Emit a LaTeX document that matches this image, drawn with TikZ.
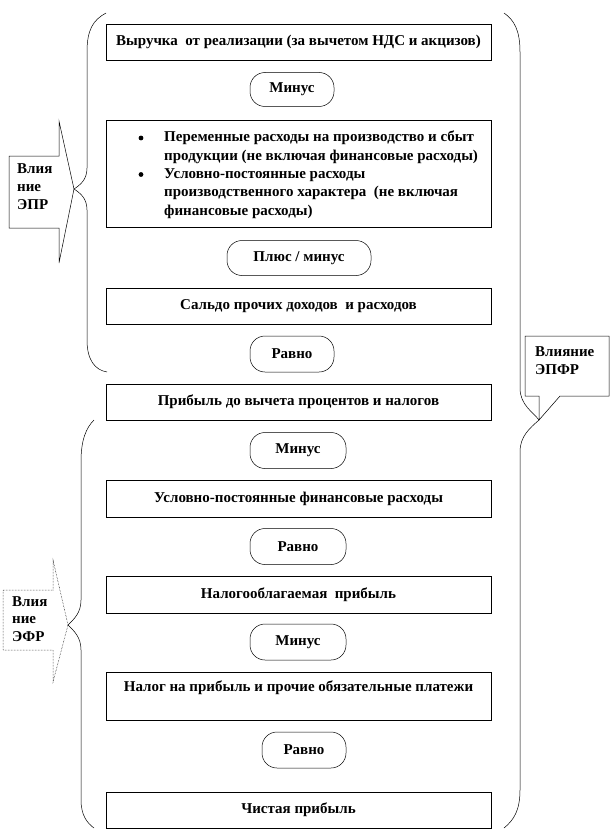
\documentclass[tikz,border=0pt]{standalone}
\usepackage{fontspec}
\setmainfont{Liberation Serif}
\begin{document}
\begin{tikzpicture}[x=1pt,y=-1pt,
  every node/.style={font=\bfseries\fontsize{15}{17}\selectfont, inner sep=0pt},
  box/.style={draw, line width=0.6pt, minimum width=385pt, align=center},
  opbox/.style={draw, line width=0.5pt, rounded corners=15pt, align=center},
  brace/.style={draw, line width=0.5pt},
  callout/.style={draw, line width=0.5pt}]
\useasboundingbox (0,0) rectangle (612,840);
\fill[white] (0,0) rectangle (612,840);

% main chain
\node[box, minimum height=36pt] (b1) at (298.5,42) {Выручка\ \ от реализации (за вычетом НДС и акцизов)};
\node[opbox, minimum width=84pt, minimum height=34pt] (o1) at (292,89.5) {Минус};
\node[box, minimum height=107pt] (b2) at (298.5,173.5) {};
\node[opbox, minimum width=144pt, minimum height=35pt] (o2) at (299,258) {Плюс / минус};
\node[box, minimum height=36pt] (b3) at (298.5,306) {Сальдо прочих доходов\ \ и расходов};
\node[opbox, minimum width=84pt, minimum height=36pt] (o3) at (292,354) {Равно};
\node[box, minimum height=36pt] (b4) at (298.5,402) {Прибыль до вычета процентов и налогов};
\node[opbox, minimum width=96pt, minimum height=36pt] (o4) at (298,450.5) {Минус};
\node[box, minimum height=37pt] (b5) at (298.5,498.5) {Условно-постоянные финансовые расходы};
\node[opbox, minimum width=96pt, minimum height=36pt] (o5) at (298,546.5) {Равно};
\node[box, minimum height=37pt] (b6) at (298.5,594.5) {Налогооблагаемая\ \ прибыль};
\node[opbox, minimum width=96pt, minimum height=36pt] (o6) at (298,642) {Минус};
\node[box, minimum height=48pt] (b7) at (298.5,696) {};
\node[anchor=center] (t7) at (298.5,688) {Налог на прибыль и прочие обязательные платежи};
\node[opbox, minimum width=84pt, minimum height=36pt] (o7) at (304,750) {Равно};
\node[box, minimum height=36pt] (b8) at (298.5,810) {Чистая прибыль};

% bullet list inside b2
\node[anchor=north west, align=left, font=\bfseries\fontsize{15}{18.3}\selectfont] (t2) at (164,131) {Переменные расходы на производство и сбыт\\продукции (не включая финансовые расходы)\\Условно-постоянные расходы\\производственного характера\ \ (не включая\\финансовые расходы)};
\fill (141,138) circle (2.4pt);
\fill (141,174.5) circle (2.4pt);

% braces
\path[brace] (106,13) .. controls (93,20) and (87,30) .. (87,52) -- (87,168)
  .. controls (87,180) and (80,185) .. (74,189) .. controls (80,193) and (87,198) .. (87,210)
  -- (87,340) .. controls (87,360) and (95,370) .. (107,372);
\path[brace] (94,420) .. controls (86,428) and (81,440) .. (81,462) -- (81,600)
  .. controls (81,613) and (74,619) .. (68,625) .. controls (74,631) and (81,637) .. (81,650)
  -- (81,800) .. controls (81,815) and (87,823) .. (94,828);
\path[brace] (504,13) .. controls (514,20) and (520,30) .. (520,52) -- (520,388)
  .. controls (520,405) and (533,412) .. (539,420) .. controls (530,428) and (520,436) .. (520,452)
  -- (520,790) .. controls (520,810) and (514,820) .. (504,828);

% callouts
\path[callout] (9,156) -- (59,156) -- (59,121) -- (74,189) -- (59,263) -- (59,228) -- (9,228) -- cycle;
\node[anchor=north west, align=left, font=\bfseries\fontsize{15}{18}\selectfont] (c1) at (17,163) {Влия\\ние\\ЭПР};

\path[callout, densely dotted] (3,590) -- (53,590) -- (53,560) -- (68,625) -- (53,682) -- (53,650) -- (3,650) -- cycle;
\node[anchor=north west, align=left, font=\bfseries\fontsize{15}{17.5}\selectfont] (c2) at (12,596) {Влия\\ние\\ЭФР};

\path[callout] (525,336) -- (609,336) -- (609,396) -- (560,396) -- (539,420) -- (539,396) -- (525,396) -- cycle;
\node[anchor=north west, align=left, font=\bfseries\fontsize{15}{18}\selectfont] (c3) at (535,346) {Влияние\\ЭПФР};
\end{tikzpicture}
\end{document}
